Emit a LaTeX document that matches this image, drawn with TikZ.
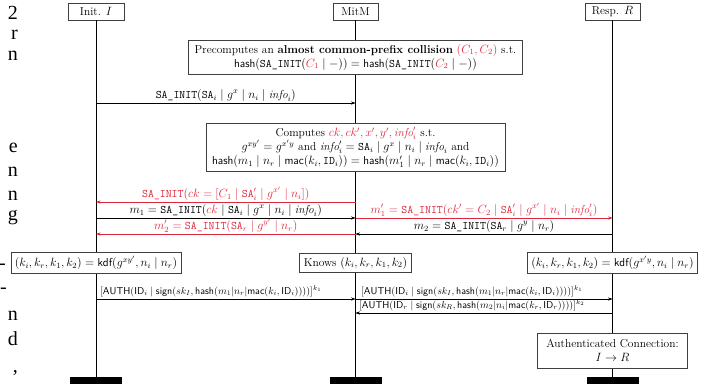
\documentclass[tikz,border=0pt]{standalone}
\usepackage{amsmath}
\usepackage{fontspec}
\newfontfamily\tms{Liberation Serif}
\usetikzlibrary{arrows.meta}
\definecolor{rd}{RGB}{220,40,60}
\newcommand{\SAI}{\texttt{SA\_INIT}}
\newcommand{\tSA}{\texttt{SA}}
\newcommand{\tID}{\texttt{ID}}
\begin{document}
\begin{tikzpicture}[x=1pt,y=-1pt,
  every node/.style={font=\fontsize{11.5}{14}\selectfont},
  bx/.style={draw=black!75, line width=0.6pt, fill=white, inner xsep=6pt, inner ysep=4pt, align=center},
  hd/.style={draw=black!75, line width=0.6pt, fill=white, inner sep=2pt, minimum height=17pt},
  life/.style={line width=0.6pt},
  msg/.style={line width=0.5pt, -{Stealth[length=4.5pt,width=3.2pt]}},
  lbl/.style={inner sep=1.5pt, anchor=south},
  albl/.style={inner sep=0pt, anchor=south west, font=\fontsize{10}{12}\selectfont},
  bar/.style={fill=black, inner sep=0pt, minimum width=52pt, minimum height=7.5pt},
  mg/.style={anchor=base east, inner sep=0pt, font=\tms\fontsize{20}{20}\selectfont},
  ]
\useasboundingbox (0,0) rectangle (710,389);
% margin fragments
\node[mg] (g1) at (18,19) {2};
\node[mg] (g2) at (18,39) {r};
\node[mg] (g3) at (18,60) {n};
\node[mg] (g4) at (18,152) {e};
\node[mg] (g5) at (18,176) {n};
\node[mg] (g6) at (18,200) {n};
\node[mg] (g7) at (18,220) {g};
\node[mg] (g8) at (6,269.5) {-};
\node[mg] (g9) at (7,293.5) {-};
\node[mg] (g10) at (18,320.5) {n};
\node[mg] (g11) at (18,345.5) {d};
\node[mg] (g12) at (18,372) {,};
% headers and bars
\node[hd, minimum width=56pt] (hI) at (96,11.5) {Init. $I$};
\node[hd, minimum width=45pt] (hM) at (355.5,11.5) {MitM};
\node[hd, minimum width=55pt] (hR) at (612.5,11.5) {Resp. $R$};
\node[bar] (bI) at (96,380.5) {};
\node[bar] (bM) at (355.5,380.5) {};
\node[bar] (bR) at (612.5,380.5) {};
\draw[life] (hI.south) -- (bI.north);
\draw[life] (hM.south) -- (bM.north);
\draw[life] (hR.south) -- (bR.north);
% precompute
\node[bx] (pre) at (355.5,57) {Precomputes an \textbf{almost common-prefix collision} {\color{rd}$(C_1, C_2)$} s.t.\\
$\mathsf{hash}(\SAI({\color{rd}C_1} \mid -)) = \mathsf{hash}(\SAI({\color{rd}C_2} \mid -))$};
% message 1
\coordinate (a1I) at (96,103);
\coordinate (a1M) at (355.5,103);
\draw[msg] (a1I) -- node[lbl] (l1) {$\SAI(\tSA_i \mid g^x \mid n_i \mid \mathit{info}_i)$} (a1M);
% computes
\node[bx] (comp) at (355.5,147.5) {Computes {\color{rd}$ck, ck', x', y', \mathit{info}'_i$} s.t.\\
$g^{xy'} = g^{x'y}$ and $\mathit{info}'_i = \tSA_i \mid g^x \mid n_i \mid \mathit{info}_i$ and\\
$\mathsf{hash}(m_1 \mid n_r \mid \mathsf{mac}(k_i, \tID_i)) = \mathsf{hash}(m'_1 \mid n_r \mid \mathsf{mac}(k_i, \tID_i))$};
% left exchanges
\coordinate (b1I) at (96,202); \coordinate (b1M) at (355.5,202);
\coordinate (b2I) at (96,218); \coordinate (b2M) at (355.5,218);
\coordinate (b3I) at (96,234); \coordinate (b3M) at (355.5,234);
\draw[msg,rd] (b1M) -- node[lbl,text=rd] (l2) {$\SAI(ck = [C_1 \mid \tSA'_i \mid g^{x'} \mid n_i])$} (b1I);
\draw[msg] (b2I) -- node[lbl] (l3) {$m_1 = \SAI({\color{rd}ck} \mid \tSA_i \mid g^x \mid n_i \mid \mathit{info}_i)$} (b2M);
\draw[msg,rd] (b3M) -- node[lbl,text=rd] (l4) {$m'_2 = \SAI(\tSA_r \mid g^{y'} \mid n_r)$} (b3I);
% right exchanges
\coordinate (c1M) at (355.5,218); \coordinate (c1R) at (612.5,218);
\coordinate (c2M) at (355.5,234); \coordinate (c2R) at (612.5,234);
\draw[msg,rd] (c1M) -- node[lbl,text=rd] (l5) {$m'_1 = \SAI(ck' = C_2 \mid \tSA'_i \mid g^{x'} \mid n_i \mid \mathit{info}'_i)$} (c1R);
\draw[msg] (c2R) -- node[lbl] (l6) {$m_2 = \SAI(\tSA_r \mid g^y \mid n_r)$} (c2M);
% key derivation
\node[bx, inner xsep=4pt, inner ysep=3.5pt] (kI) at (96,263) {$(k_i, k_r, k_1, k_2) = \mathsf{kdf}(g^{xy'}, n_i \mid n_r)$};
\node[bx, inner xsep=4pt, inner ysep=3.5pt] (kM) at (355.5,263) {Knows $(k_i, k_r, k_1, k_2)$};
\node[bx, inner xsep=4pt, inner ysep=3.5pt] (kR) at (612.5,263) {$(k_i, k_r, k_1, k_2) = \mathsf{kdf}(g^{x'y}, n_i \mid n_r)$};
% auth
\coordinate (d1I) at (96,299); \coordinate (d1M) at (355.5,299);
\coordinate (d2M) at (355.5,299); \coordinate (d2R) at (612.5,299);
\coordinate (d3M) at (355.5,313); \coordinate (d3R) at (612.5,313);
\draw[msg] (d1I) -- (d1M);
\draw[msg] (d2M) -- (d2R);
\draw[msg] (d3R) -- (d3M);
\node[albl] (m1) at (100,297) {$[\mathsf{AUTH}(\mathsf{ID}_i \mid \mathsf{sign}(sk_I, \mathsf{hash}(m_1|n_r|\mathsf{mac}(k_i, \mathsf{ID}_i))))]^{k_1}$};
\node[albl] (m2) at (361,297) {$[\mathsf{AUTH}(\mathsf{ID}_i \mid \mathsf{sign}(sk_I, \mathsf{hash}(m_1|n_r|\mathsf{mac}(k_i, \mathsf{ID}_i))))]^{k_1}$};
\node[albl] (m3) at (359,311) {$[\mathsf{AUTH}(\mathsf{ID}_r \mid \mathsf{sign}(sk_R, \mathsf{hash}(m_2|n_i|\mathsf{mac}(k_r, \mathsf{ID}_r))))]^{k_2}$};
\node[bx, minimum width=150pt, minimum height=35pt] (fin) at (612.5,350.5) {Authenticated Connection:\\ $I \to R$};
\end{tikzpicture}
\end{document}
